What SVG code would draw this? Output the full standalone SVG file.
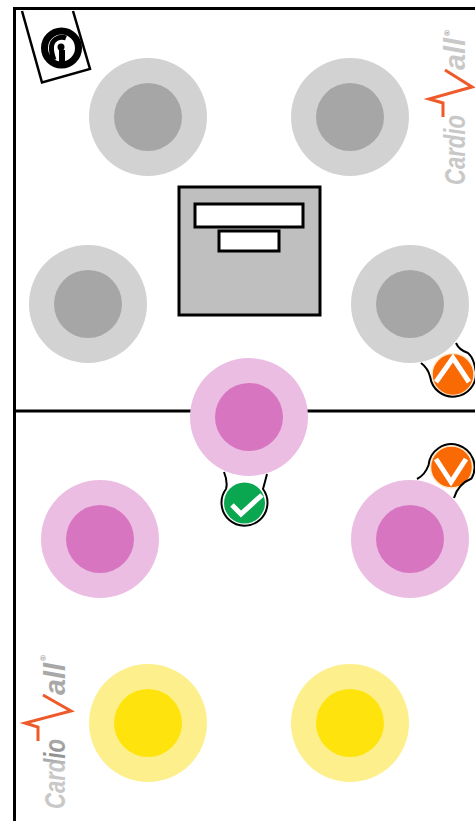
<svg xmlns="http://www.w3.org/2000/svg" width="475" height="821" viewBox="0 0 475 821">
<defs>
<linearGradient id="lg1" gradientUnits="userSpaceOnUse" x1="443" x2="466" y1="0" y2="0"><stop offset="0" stop-color="#c8c8c8"/><stop offset="0.5" stop-color="#8e8e8e"/><stop offset="1" stop-color="#a8a8a8"/></linearGradient>
<linearGradient id="lg2" gradientUnits="userSpaceOnUse" x1="43" x2="66" y1="0" y2="0"><stop offset="0" stop-color="#c8c8c8"/><stop offset="0.5" stop-color="#8e8e8e"/><stop offset="1" stop-color="#a8a8a8"/></linearGradient>
</defs>
<style>
.line{fill:none;stroke:#000;stroke-width:3}
.g1{fill:#d2d2d2}.g2{fill:#a6a6a6}
.p1{fill:#ebbde2}.p2{fill:#d775c1}
.y1{fill:#fdf08c}.y2{fill:#fee30c}
.tail{fill:none;stroke:#000;stroke-width:2}
.logo{font-family:"Liberation Sans",Arial,sans-serif;font-style:italic;font-weight:700;font-size:30px}
.ecg{fill:none;stroke:#ef5a2a;stroke-width:3;stroke-linejoin:miter}
.reg{font-family:"Liberation Sans",Arial,sans-serif;font-size:8px;fill:#888}
.mark{fill:none;stroke:#fff;stroke-width:5}
</style>
<rect width="475" height="821" fill="#fff"/>
<g id="frame">
<path class="line" d="M14.500 821V8.500H475M14 411H475"/>
</g>
<g id="tag">
<path d="M22 11L42 82.500L90 69L73 11" fill="#fff" stroke="#000" stroke-width="2.500"/>
<circle cx="61.500" cy="48" r="17" fill="#fff" stroke="#000" stroke-width="7"/>
<path d="M54 60Q48 44 56 39Q61 36 66 38" fill="none" stroke="#000" stroke-width="5"/>
<circle cx="61" cy="47" r="3.500" fill="#000"/>
<path d="M62 50V62" stroke="#000" stroke-width="6"/>
</g>
<g id="logo-top">
<text class="logo" fill="url(#lg1)" transform="translate(465 185) rotate(-90)"><tspan x="0" textLength="70" lengthAdjust="spacingAndGlyphs">Cardio</tspan><tspan x="70" fill="none">W</tspan><tspan x="115" textLength="32" lengthAdjust="spacingAndGlyphs">all</tspan></text>
<polyline class="ecg" points="443,117 443,103 429,99 472,87 445,70"/>
<text class="reg" transform="translate(450 36) rotate(-90)">®</text>
</g>
<g id="logo-bottom">
<text class="logo" fill="url(#lg2)" transform="translate(65 809) rotate(-90)"><tspan x="0" textLength="70" lengthAdjust="spacingAndGlyphs">Cardio</tspan><tspan x="70" fill="none">W</tspan><tspan x="114" textLength="32" lengthAdjust="spacingAndGlyphs">all</tspan></text>
<polyline class="ecg" points="38,741 38,727 25,723 71,711 43,695"/>
<text class="reg" transform="translate(46 661) rotate(-90)">®</text>
</g>
<g id="seat-gray-1"><circle class="g1" cx="148" cy="117" r="59"/><circle class="g2" cx="148" cy="117" r="34"/></g>
<g id="seat-gray-2"><circle class="g1" cx="350" cy="117" r="59"/><circle class="g2" cx="350" cy="117" r="34"/></g>
<g id="seat-gray-3"><circle class="g1" cx="88" cy="304" r="59"/><circle class="g2" cx="88" cy="304" r="34"/></g>
<g id="seat-gray-4"><circle class="g1" cx="410" cy="304" r="59"/><circle class="g2" cx="410" cy="304" r="34"/></g>
<g id="table">
<rect x="179" y="187" width="141" height="128" fill="#bfbfbf" stroke="#000" stroke-width="3"/>
<rect x="195" y="204" width="108" height="23" fill="#fff" stroke="#000" stroke-width="3"/>
<rect x="219" y="231" width="60" height="20" fill="#fff" stroke="#000" stroke-width="3"/>
</g>
<g id="seat-pink-1"><circle class="p1" cx="249" cy="417" r="59"/><circle class="p2" cx="249" cy="417" r="34"/></g>
<g id="seat-pink-2"><circle class="p1" cx="100" cy="539" r="59"/><circle class="p2" cx="100" cy="539" r="34"/></g>
<g id="seat-pink-3"><circle class="p1" cx="410" cy="539" r="59"/><circle class="p2" cx="410" cy="539" r="34"/></g>
<g id="seat-yellow-1"><circle class="y1" cx="148" cy="723" r="59"/><circle class="y2" cx="148" cy="723" r="34"/></g>
<g id="seat-yellow-2"><circle class="y1" cx="350" cy="723" r="59"/><circle class="y2" cx="350" cy="723" r="34"/></g>
<g id="badge-up">
<circle cx="453" cy="374.500" r="21" fill="#f96a05" stroke="#fdebd0" stroke-width="1.500"/>
<path class="tail" d="M421 363Q428 368 430.200 377A23 23 0 0 0 475.900 372Q474 358 468 353Q459 350 456 343"/>
<path class="mark" d="M436 382L453 358L469 382"/>
</g>
<g id="badge-down">
<circle cx="451.500" cy="467" r="21" fill="#f96a05" stroke="#fdebd0" stroke-width="1.500"/>
<path class="tail" d="M417 479Q425 475 428.600 465A23 23 0 1 1 471.500 478.500Q458 484 454 498"/>
<path class="mark" d="M436 459L451 482L466 459"/>
</g>
<g id="badge-ok">
<circle cx="244.500" cy="503" r="20.500" fill="#0ba750"/>
<path class="tail" d="M224 472Q228 482 226 489A23 23 0 1 0 263 489Q265 482 267 474"/>
<path class="mark" d="M232 505L241 514L262 495"/>
</g>
</svg>
